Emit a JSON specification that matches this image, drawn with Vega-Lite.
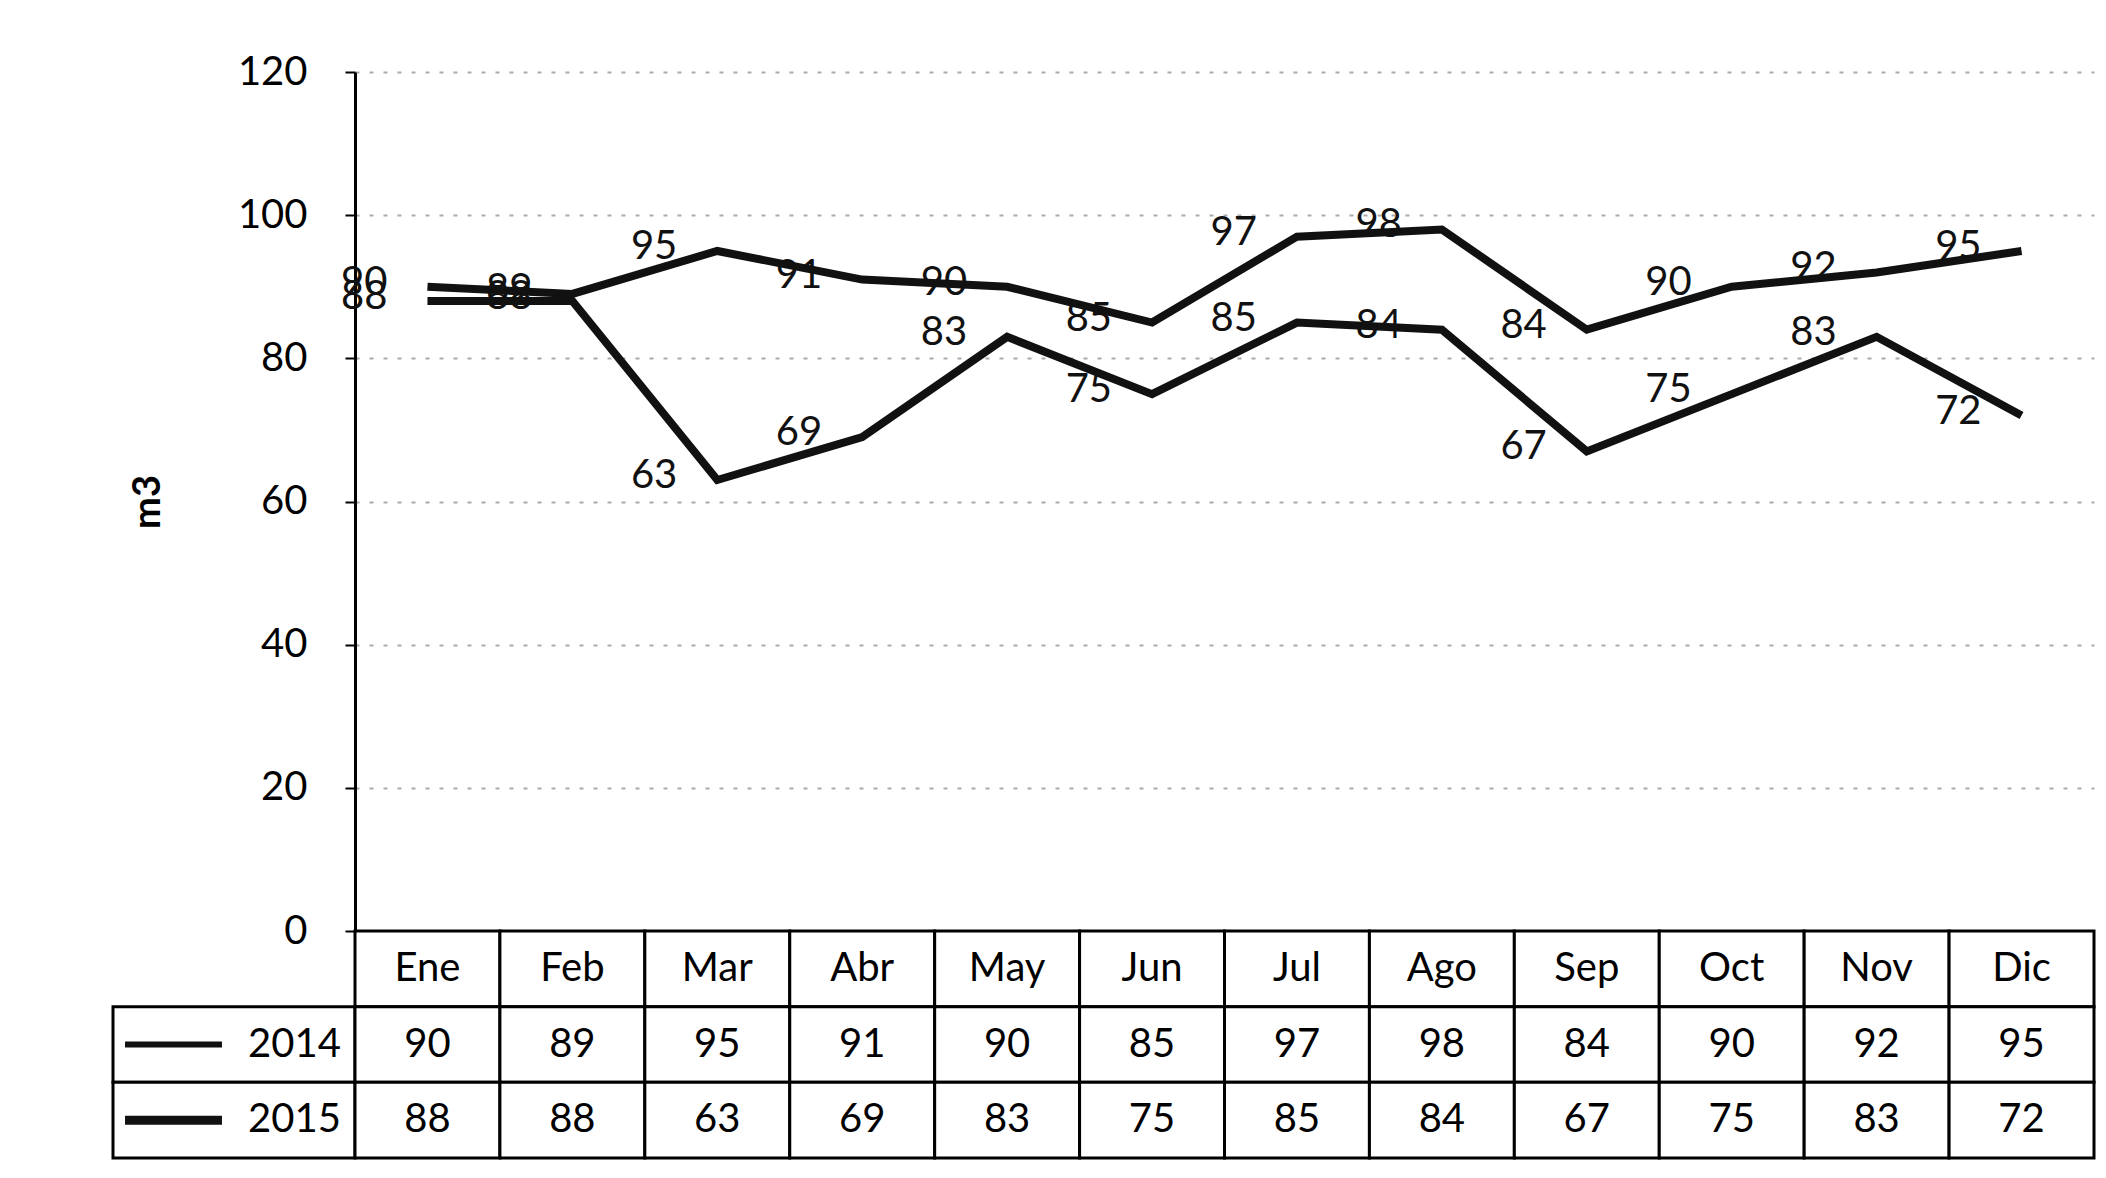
{
  "$schema": "https://vega.github.io/schema/vega-lite/v6.json",
  "background": "white",
  "padding": {"left": 107, "top": 52, "right": 18, "bottom": 18},
  "autosize": {"type": "pad"},
  "config": {"view": {"stroke": null}, "font": "Lato"},
  "datasets": {
    "vals": [
      {"month": "Ene", "year": "2014", "value": 90},
      {"month": "Feb", "year": "2014", "value": 89},
      {"month": "Mar", "year": "2014", "value": 95},
      {"month": "Abr", "year": "2014", "value": 91},
      {"month": "May", "year": "2014", "value": 90},
      {"month": "Jun", "year": "2014", "value": 85},
      {"month": "Jul", "year": "2014", "value": 97},
      {"month": "Ago", "year": "2014", "value": 98},
      {"month": "Sep", "year": "2014", "value": 84},
      {"month": "Oct", "year": "2014", "value": 90},
      {"month": "Nov", "year": "2014", "value": 92},
      {"month": "Dic", "year": "2014", "value": 95},
      {"month": "Ene", "year": "2015", "value": 88},
      {"month": "Feb", "year": "2015", "value": 88},
      {"month": "Mar", "year": "2015", "value": 63},
      {"month": "Abr", "year": "2015", "value": 69},
      {"month": "May", "year": "2015", "value": 83},
      {"month": "Jun", "year": "2015", "value": 75},
      {"month": "Jul", "year": "2015", "value": 85},
      {"month": "Ago", "year": "2015", "value": 84},
      {"month": "Sep", "year": "2015", "value": 67},
      {"month": "Oct", "year": "2015", "value": 75},
      {"month": "Nov", "year": "2015", "value": 83},
      {"month": "Dic", "year": "2015", "value": 72}
    ],
    "months": [
      {"month": "Ene"}, {"month": "Feb"}, {"month": "Mar"}, {"month": "Abr"},
      {"month": "May"}, {"month": "Jun"}, {"month": "Jul"}, {"month": "Ago"},
      {"month": "Sep"}, {"month": "Oct"}, {"month": "Nov"}, {"month": "Dic"}
    ]
  },
  "columns": 2,
  "spacing": 0,
  "bounds": "flush",
  "concat": [
    {
      "width": 242,
      "height": 859,
      "data": {"name": "months"},
      "mark": {"type": "point", "opacity": 0},
      "encoding": {}
    },
    {
      "width": 1739,
      "height": 859,
      "data": {"name": "vals"},
      "encoding": {
        "x": {
          "field": "month", "type": "ordinal",
          "sort": ["Ene","Feb","Mar","Abr","May","Jun","Jul","Ago","Sep","Oct","Nov","Dic"],
          "scale": {"type": "point", "padding": 0.5},
          "axis": null
        },
        "y": {
          "field": "value", "type": "quantitative",
          "scale": {"domain": [0, 120], "nice": false},
          "title": "m3",
          "axis": {
            "values": [0, 20, 40, 60, 80, 100, 120],
            "grid": true, "gridColor": "#aaa", "gridDash": [4, 10], "gridWidth": 2,
            "domainColor": "#000", "domainWidth": 3,
            "tickColor": "#000", "tickSize": 10, "tickWidth": 2,
            "labelFontSize": 40, "labelColor": "#000", "labelPadding": 38,
            "titleFontSize": 38, "titleFontWeight": "bold", "titleColor": "#000", "titlePadding": 70
          }
        }
      },
      "layer": [
        {
          "mark": {"type": "line", "stroke": "#111", "strokeWidth": 8},
          "encoding": {"detail": {"field": "year"}}
        },
        {
          "mark": {"type": "text", "align": "right", "baseline": "middle", "dx": -40, "dy": -4, "fontSize": 40, "color": "#111"},
          "encoding": {"text": {"field": "value"}}
        }
      ]
    },
    {
      "width": 242,
      "height": 227,
      "data": {"name": "vals"},
      "transform": [{"aggregate": [{"op": "count", "as": "n"}], "groupby": ["year"]}],
      "encoding": {
        "y": {
          "field": "year", "type": "nominal",
          "scale": {"type": "band", "domain": ["hdr", "2014", "2015"], "paddingInner": 0, "paddingOuter": 0},
          "axis": null
        }
      },
      "layer": [
        {"mark": {"type": "rect", "fill": "white", "stroke": "#000", "strokeWidth": 3}},
        {
          "mark": {"type": "point", "shape": "M-1,0L1,0", "size": 9400, "filled": false, "color": "#111", "opacity": 1},
          "encoding": {
            "x": {"datum": "key", "type": "nominal", "scale": {"type": "band", "domain": ["key", "label"], "paddingInner": 0, "paddingOuter": 0}, "axis": null},
            "strokeWidth": {"field": "year", "type": "nominal", "scale": {"domain": ["2014", "2015"], "range": [6, 9]}, "legend": null}
          }
        },
        {
          "mark": {"type": "text", "fontSize": 40, "align": "center", "baseline": "middle", "color": "#000"},
          "encoding": {
            "x": {"datum": "label", "type": "nominal"},
            "text": {"field": "year"}
          }
        }
      ]
    },
    {
      "width": 1739,
      "height": 227,
      "encoding": {
        "x": {
          "field": "month", "type": "ordinal",
          "sort": ["Ene","Feb","Mar","Abr","May","Jun","Jul","Ago","Sep","Oct","Nov","Dic"],
          "scale": {"type": "band", "paddingInner": 0, "paddingOuter": 0},
          "axis": null
        }
      },
      "layer": [
        {
          "data": {"name": "months"},
          "mark": {"type": "rect", "fill": "white", "stroke": "#000", "strokeWidth": 3},
          "encoding": {
            "y": {"datum": "hdr", "type": "nominal", "scale": {"type": "band", "domain": ["hdr", "2014", "2015"], "paddingInner": 0, "paddingOuter": 0}, "axis": null}
          }
        },
        {
          "data": {"name": "months"},
          "mark": {"type": "text", "fontSize": 40, "baseline": "middle", "color": "#000"},
          "encoding": {
            "y": {"datum": "hdr", "type": "nominal"},
            "text": {"field": "month"}
          }
        },
        {
          "data": {"name": "vals"},
          "mark": {"type": "rect", "fill": "white", "stroke": "#000", "strokeWidth": 3},
          "encoding": {"y": {"field": "year", "type": "nominal"}}
        },
        {
          "data": {"name": "vals"},
          "mark": {"type": "text", "fontSize": 40, "baseline": "middle", "color": "#000"},
          "encoding": {
            "y": {"field": "year", "type": "nominal"},
            "text": {"field": "value"}
          }
        }
      ]
    }
  ]
}
